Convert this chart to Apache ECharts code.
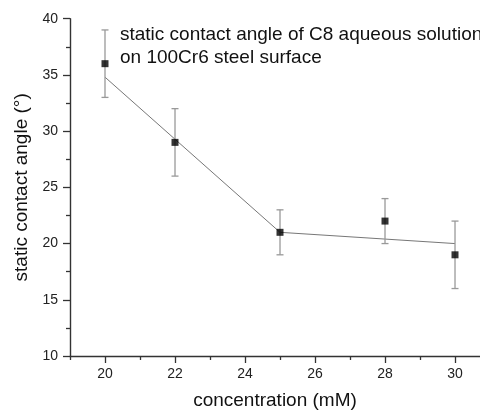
<!DOCTYPE html>
<html>
<head>
<meta charset="utf-8">
<script src="https://cdn.jsdelivr.net/npm/echarts@6/dist/echarts.min.js"></script>
<style>
  html, body { margin: 0; padding: 0; background: #fff; }
  #chart { width: 480px; height: 410px; }
</style>
</head>
<body>
<div id="chart"></div>
<script>
// Static contact angle of C8 aqueous solution on 100Cr6 steel
const concentration = [20, 22, 25, 28, 30];      // mM
const contactAngle  = [36, 29, 21, 22, 19];      // degrees
const errLow        = [33, 26, 19, 20, 16];
const errHigh       = [39, 32, 23, 24, 22];

// Piecewise linear guide line
const fitX = [20, 25, 30];
const fitY = [34.8, 21.0, 20.0];

// Labelled and minor ticks on the concentration axis
const xTicks = [20, 22, 24, 26, 28, 30];
const xMinorTicks = [19, 21, 23, 25, 27, 29];

const FONT = '"Liberation Sans", Arial, sans-serif';
const AXIS_COLOR = '#333';

const chart = echarts.init(document.getElementById('chart'), null, { renderer: 'canvas' });

const errData = concentration.map((c, i) => [c, errLow[i], errHigh[i]]);

const xBase = { type: 'value', min: 19, max: 30.714, interval: 1, gridIndex: 0, position: 'bottom' };

chart.setOption({
  animation: false,
  backgroundColor: '#fff',
  grid: { left: 70, right: 0, top: 18.7, bottom: 54, containLabel: false, outerBoundsMode: 'none' },
  xAxis: [
    Object.assign({}, xBase, {
      name: 'concentration (mM)', nameLocation: 'middle', nameGap: 35,
      nameTextStyle: { fontFamily: FONT, fontSize: 19, color: '#111' },
      axisLine: { show: true, onZero: false, lineStyle: { color: AXIS_COLOR, width: 1.4 } },
      axisTick: { show: true, inside: false, length: 7, customValues: xTicks,
        lineStyle: { color: AXIS_COLOR, width: 1.3 } },
      axisLabel: { fontFamily: FONT, fontSize: 14, color: '#222', margin: 11,
        customValues: xTicks },
      splitLine: { show: false }
    }),
    Object.assign({}, xBase, {
      axisLine: { show: false, onZero: false },
      axisTick: { show: true, inside: false, length: 4, customValues: xMinorTicks,
        lineStyle: { color: AXIS_COLOR, width: 1.3 } },
      axisLabel: { show: false },
      splitLine: { show: false }
    })
  ],
  yAxis: {
    type: 'value', min: 10, max: 40, interval: 5,
    name: 'static contact angle (°)', nameLocation: 'middle', nameGap: 37, nameRotate: 90,
    nameTextStyle: { fontFamily: FONT, fontSize: 19, color: '#111' },
    axisLine: { show: true, onZero: false, lineStyle: { color: AXIS_COLOR, width: 1.4 } },
    axisTick: { show: true, inside: false, length: 7, lineStyle: { color: AXIS_COLOR, width: 1.3 } },
    minorTick: { show: true, splitNumber: 2, length: 4, lineStyle: { color: AXIS_COLOR, width: 1.3 } },
    axisLabel: { fontFamily: FONT, fontSize: 14, color: '#222', margin: 12 },
    splitLine: { show: false }
  },
  graphic: [{
    type: 'text', left: 120, top: 23,
    style: {
      text: 'static contact angle of C8 aqueous solution\non 100Cr6 steel surface',
      font: '19px ' + FONT, fill: '#111', lineHeight: 23
    }
  }],
  series: [
    {
      type: 'line', data: fitX.map((x, i) => [x, fitY[i]]),
      symbol: 'none', lineStyle: { color: '#777', width: 1 }, z: 2
    },
    {
      type: 'custom', data: errData, z: 3,
      renderItem: function (params, api) {
        const x = api.value(0);
        const lo = api.coord([x, api.value(1)]);
        const hi = api.coord([x, api.value(2)]);
        const cap = 3.5;
        const st = { stroke: '#999', lineWidth: 1.3 };
        return {
          type: 'group',
          children: [
            { type: 'line', shape: { x1: lo[0], y1: lo[1], x2: hi[0], y2: hi[1] }, style: st },
            { type: 'line', shape: { x1: lo[0] - cap, y1: lo[1], x2: lo[0] + cap, y2: lo[1] }, style: st },
            { type: 'line', shape: { x1: hi[0] - cap, y1: hi[1], x2: hi[0] + cap, y2: hi[1] }, style: st }
          ]
        };
      }
    },
    {
      type: 'scatter', data: concentration.map((c, i) => [c, contactAngle[i]]),
      symbol: 'rect', symbolSize: 7, itemStyle: { color: '#000' }, z: 4
    }
  ]
});
</script>
</body>
</html>
